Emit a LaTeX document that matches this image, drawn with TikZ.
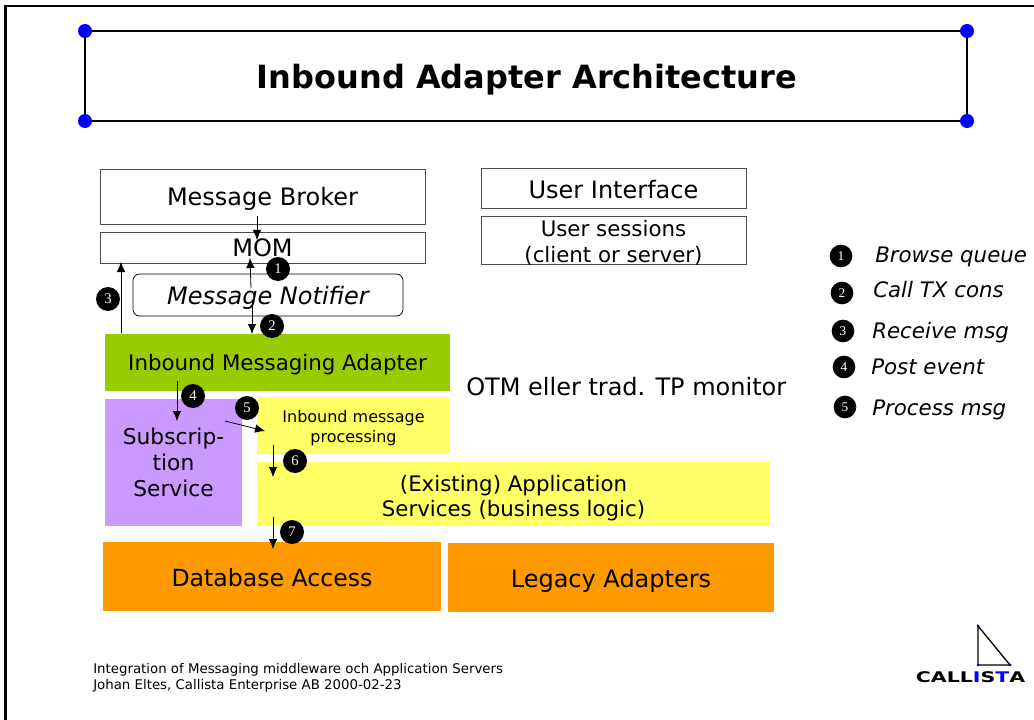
\documentclass[tikz,border=0pt]{standalone}
\usepackage{fontspec}
\setmainfont{DejaVu Sans}
\newfontfamily\digitfont{Liberation Serif}
\usetikzlibrary{arrows.meta}
\definecolor{adaptergreen}{HTML}{99CC00}
\definecolor{servicepurple}{HTML}{CC99FF}
\definecolor{logicyellow}{HTML}{FFFF66}
\definecolor{dataorange}{HTML}{FF9900}
\tikzset{
  droptext/.style={execute at begin node={\rule{0pt}{#1}}},
  boxtext/.style={inner sep=0pt,align=center,text=black,font=\fontsize{#1}{#1}\selectfont},
  boxsize/.style 2 args={minimum width=#1*0.75pt,minimum height=#2*0.75pt},
  outlined/.style={draw=black!70,line width=0.7pt},
  filled/.style={fill=#1},
  flow/.style={-{Latex[length=7.5pt,width=6.5pt]},line width=0.6pt},
  badge/.style={circle,fill=black,text=white,inner sep=0pt,minimum size=18pt,font=\digitfont\fontsize{11}{11}\selectfont},
  legendbadge/.style={badge,minimum size=17pt,font=\digitfont\fontsize{10}{10}\selectfont},
  legendtext/.style={anchor=west,inner sep=0pt,font=\itshape\fontsize{16}{16}\selectfont},
  cornerdot/.style={circle,fill=blue,inner sep=0pt,minimum size=10.5pt}
}
\begin{document}
\begin{tikzpicture}[x=0.75pt,y=-0.75pt]
  \useasboundingbox (0,0) rectangle (1034,720);
  % slide frame
  \draw[line width=1.6pt] (5.5,720) -- (5.5,6) -- (1034,6);
  % title
  \node[cornerdot] (tl) at (85,31) {};
  \node[cornerdot] (tr) at (967,31) {};
  \node[cornerdot] (bl) at (85,121) {};
  \node[cornerdot] (br) at (967,121) {};
  \draw[line width=1pt] (tl) -- (tr) -- (br) -- (bl) -- (tl);
  \node[inner sep=0pt,font=\bfseries\fontsize{24}{24}\selectfont] (title) at (527,80) {Inbound Adapter Architecture};
  % boxes
  \node[outlined,boxtext=18,droptext=0.93em,boxsize={325}{55}] (broker) at (262.5,196.5) {Message Broker};
  \node[outlined,boxtext=18,droptext=0.78em,boxsize={325}{31}] (mom) at (262.5,247.5) {MOM};
  \node[draw=black,line width=0.6pt,rounded corners=5pt,boxtext=18,droptext=1em,boxsize={270}{42}] (notifier) at (268,295) {\itshape Message Notifier};
  \node[filled=adaptergreen,boxtext=16,droptext=0.93em,boxsize={345}{57}] (adapter) at (277.5,362.5) {Inbound Messaging Adapter};
  \node[filled=servicepurple,boxtext=16.3,boxsize={137}{127}] (subscription) at (173.5,462.5) {Subscrip-\\[3pt]tion\\[3pt]Service};
  \node[filled=logicyellow,boxsize={193}{57}] (processing) at (353.5,425.5) {};
  \node[boxtext=12] (processingtext) at (353.5,428) {Inbound message\\[2.5pt]processing};
  \node[filled=logicyellow,boxsize={513}{64}] (existing) at (513.5,494) {};
  \node[boxtext=16] (existingtext) at (513.5,498) {(Existing) Application\\[3pt]Services (business logic)};
  \node[filled=dataorange,boxtext=17.7,droptext=0.85em,boxsize={338}{69}] (database) at (272,576.5) {Database Access};
  \node[filled=dataorange,boxtext=18,droptext=1em,boxsize={326}{69}] (legacy) at (611,577.5) {Legacy Adapters};
  \node[outlined,boxtext=18,droptext=0.85em,boxsize={265}{40}] (ui) at (613.5,188) {User Interface};
  \node[outlined,boxsize={265}{48}] (sessions) at (613.5,240) {};
  \node[boxtext=16] (sessionstext) at (613.5,243) {User sessions\\[3.2pt](client or server)};
  \node[anchor=west,inner sep=0pt,font=\fontsize{18}{18}\selectfont] (otm) at (466,387) {OTM eller trad. TP monitor};
  % flow arrows
  \coordinate (brokerout) at (257,216);
  \coordinate (mominb) at (257,240);
  \coordinate (browsefrom) at (251,288);
  \coordinate (browseto) at (250,258);
  \coordinate (callfrom) at (252,300);
  \coordinate (callto) at (252,334);
  \coordinate (recvfrom) at (121,333);
  \coordinate (recvto) at (121,262);
  \coordinate (postfrom) at (177,381);
  \coordinate (postto) at (177,421);
  \coordinate (procfrom) at (225,421);
  \coordinate (procto) at (265,431);
  \coordinate (sixfrom) at (273,445);
  \coordinate (sixto) at (273,477);
  \coordinate (sevenfrom) at (273,517);
  \coordinate (sevento) at (273,549);
  \draw[flow] (brokerout) -- (mominb);
  \draw[flow] (browsefrom) -- (browseto);
  \draw[flow] (callfrom) -- (callto);
  \draw[flow] (recvfrom) -- (recvto);
  \draw[flow] (postfrom) -- (postto);
  \draw[flow] (procfrom) -- (procto);
  \draw[flow] (sixfrom) -- (sixto);
  \draw[flow] (sevenfrom) -- (sevento);
  % numbered steps
  \node[badge] (step1) at (278,269) {1};
  \node[badge] (step2) at (272,326) {2};
  \node[badge] (step3) at (108,299) {3};
  \node[badge] (step4) at (193,396) {4};
  \node[badge] (step5) at (247,408) {5};
  \node[badge] (step6) at (295,461) {6};
  \node[badge] (step7) at (292,532) {7};
  % legend
  \node[legendbadge] (key1) at (841,256) {1};
  \node[legendbadge] (key2) at (842,293) {2};
  \node[legendbadge] (key3) at (843,331) {3};
  \node[legendbadge] (key4) at (844,367) {4};
  \node[legendbadge] (key5) at (845,407) {5};
  \node[legendtext] (browse) at (875,257) {Browse queue};
  \node[legendtext] (callcons) at (873,290) {Call TX cons};
  \node[legendtext] (receive) at (872,333) {Receive msg};
  \node[legendtext] (post) at (871,367) {Post event};
  \node[legendtext] (process) at (872,410) {Process msg};
  % footer and logo
  \node[anchor=west,inner sep=0pt,align=left,font=\fontsize{10}{12}\selectfont] (footer) at (93,677.5) {Integration of Messaging middleware och Application Servers\\Johan Eltes, Callista Enterprise AB 2000-02-23};
  \draw[line width=1pt] (978,626) -- (978,665) -- (1010,665) -- cycle;
  \fill[blue] (978,626) circle (1.5) (978,665) circle (1.5) (1010,665) circle (1.5);
  \node[inner sep=0pt,xscale=1.4,font=\bfseries\fontsize{11}{11}\selectfont] (logo) at (970.5,677) {CALL\textcolor{blue}{I}S\textcolor{blue}{T}A};
\end{tikzpicture}
\end{document}
